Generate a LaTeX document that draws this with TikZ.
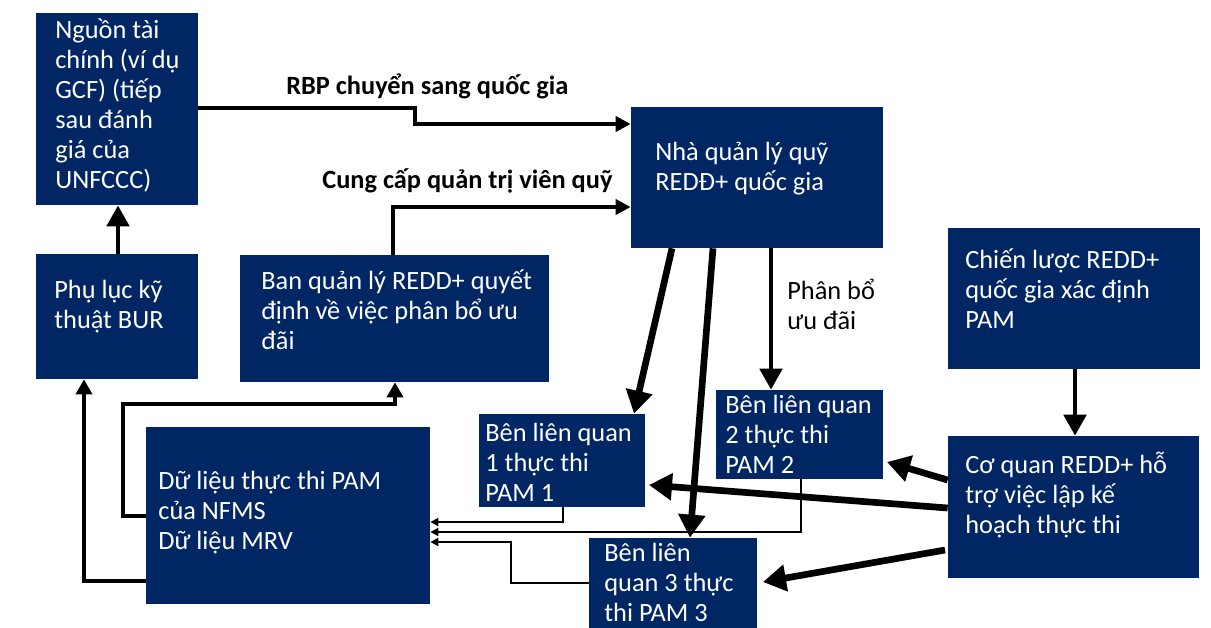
\documentclass[tikz,border=0pt]{standalone}
\usepackage{fontspec}
\setmainfont{Carlito}
\usetikzlibrary{arrows.meta,fit}
\definecolor{navy}{RGB}{0,38,100}

\begin{document}
\begin{tikzpicture}[x=0.02cm, y=-0.02cm,
		box/.style={fill=navy, draw=none, inner sep=0pt},
		txt/.style={text=white, inner sep=0pt, align=left, anchor=base west,
			font=\fontsize{15}{17.07}\selectfont},
		lbl/.style={text=black, inner sep=0pt, align=left, anchor=base west,
			font=\fontsize{15}{17.07}\selectfont},
		flow/.style={line width=2.8pt, -{Triangle[length=0.42cm, width=0.44cm]}},
		bigflow/.style={line width=3.8pt, -{Triangle[length=0.46cm, width=0.52cm]}},
		feed/.style={line width=2.2pt, -{Triangle[length=0.3cm, width=0.3cm]}},
		link/.style={line width=2.5pt, -{Triangle[length=0.3cm, width=0.32cm]}},
		thin/.style={line width=0.9pt, -{Triangle[length=0.16cm, width=0.16cm]}}]
			%%%%% START %%%%%
			
			\useasboundingbox (0, 0) rectangle (1211, 627);
			
			% boxes (text placed by the baseline of its last line)
			\node[box, fit={(36, 13) (198, 205)}] (fund) {};
			\node[txt] (fundtxt) at (55, 188) {Nguồn tài\\chính (ví dụ\\GCF) (tiếp\\sau đánh\\giá của\\UNFCCC)};
			
			\node[box, fit={(36, 254) (198, 379)}] (bur) {};
			\node[txt] (burtxt) at (54, 328) {Phụ lục kỹ\\thuật BUR};
			
			\node[box, fit={(240, 255) (549, 382)}] (board) {};
			\node[txt] (boardtxt) at (261, 349) {Ban quản lý REDD+ quyết\\định về việc phân bổ ưu\\đãi};
			
			\node[box, fit={(631, 107) (883, 248)}] (mgr) {};
			\node[txt] (mgrtxt) at (655, 190) {Nhà quản lý quỹ\\REDĐ+ quốc gia};
			
			\node[box, fit={(948, 228) (1200, 369)}] (plan) {};
			\node[txt] (plantxt) at (965, 328) {Chiến lược REDD+\\quốc gia xác định\\PAM};
			
			\node[box, fit={(948, 436) (1199, 578)}] (agency) {};
			\node[txt] (agencytxt) at (965, 533) {Cơ quan REDD+ hỗ\\trợ việc lập kế\\hoạch thực thi};
			
			\node[box, fit={(146, 427) (430, 604)}] (data) {};
			\node[txt] (datatxt) at (158, 549) {Dữ liệu thực thi PAM\\của NFMS\\Dữ liệu MRV};
			
			\node[box, fit={(479, 414) (645, 507)}] (st1) {};
			\node[txt] (st1txt) at (485, 501) {Bên liên quan\\1 thực thi\\PAM 1};
			
			\node[box, fit={(716, 390) (883, 479)}] (st2) {};
			\node[txt] (st2txt) at (725, 473) {Bên liên quan\\2 thực thi\\PAM 2};
			
			\node[box, fit={(589, 538) (757, 645)}] (st3) {};
			\node[txt] (st3txt) at (604, 621) {Bên liên\\quan 3 thực\\thi PAM 3};
			
			% labels
			\node[lbl, font=\fontsize{15}{17.07}\selectfont\bfseries] (rbp) at (286, 94) {RBP chuyển sang quốc gia};
			\node[lbl, font=\fontsize{15}{17.07}\selectfont\bfseries] (admin) at (322, 188) {Cung cấp quản trị viên quỹ};
			\node[lbl] (alloc) at (787, 329) {Phân bổ\\ưu đãi};
			
			\draw[feed] (fund.east |- 0, 108) -- (415, 108) -- (415, 124) -- (mgr.west |- 0, 124);
			\draw[feed] (board.north -| 393, 0) |- (mgr.west |- 0, 207);
			\draw[flow] (bur.north -| 118, 0) -- (fund.south -| 118, 0);
			
			\draw[link] (data.west |- 0, 581) -| (bur.south -| 84, 0);
			\draw[link] (data.west |- 0, 516) -| (123, 404) -| (board.south -| 395, 0);
			
			\draw[bigflow] (mgr.south -| 672, 0) -- (st1.north -| 634, 0);
			\draw[bigflow] (mgr.south -| 713, 0) -- (st3.north -| 690, 0);
			\draw[flow] (mgr.south -| 771, 0) -- (st2.north -| 771, 0);
			\draw[flow] (plan.south -| 1075, 0) -- (agency.north -| 1075, 0);
			
			\draw[bigflow] (agency.west |- 0, 480) -- (887, 462);
			\draw[bigflow] (agency.west |- 0, 508) -- (649, 485);
			\draw[bigflow] (945, 550) -- (763, 582);
			
			\draw[thin] (st1.south -| 563, 0) |- (data.east |- 0, 522);
			\draw[thin] (st2.south -| 801, 0) |- (data.east |- 0, 532);
			\draw[thin] (st3.west |- 0, 583) -| (511, 542) -- (data.east |- 0, 542);
			
			%%%%% END %%%%%
		\end{tikzpicture}
\end{document}
